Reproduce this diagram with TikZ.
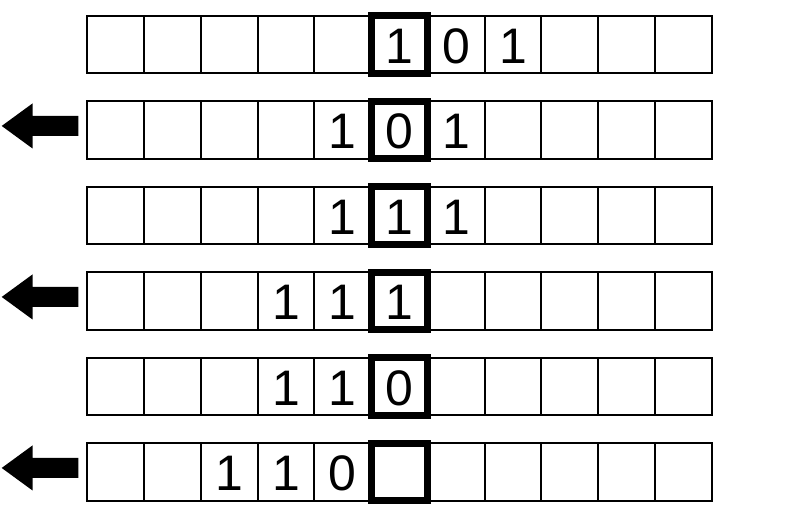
\documentclass[tikz,border=0pt]{standalone}
\usepackage{fontspec}
\setmainfont{Liberation Sans}
\usepackage{tikz}

\begin{document}
\begin{tikzpicture}[x=0.025cm, y=-0.025cm]

  \tikzstyle{cell}  = [rectangle, draw=black, line width=1.4pt, minimum width=1.419cm, minimum height=1.4375cm, inner sep=0pt, outer sep=0pt]
  \tikzstyle{head}  = [cell, line width=5pt]
  \tikzstyle{digit} = [inner sep=0pt, yshift=-0.045cm, font=\fontsize{35.5}{38}\selectfont]

  \useasboundingbox (0,0) rectangle (800,506);

  % tapes
  \foreach \row in {0,...,5} {
    \foreach \col in {0,...,10} {
      \node (c-\row-\col) [cell] at ({115.68+56.76*\col},{44.45+85.5*\row}) {};
    }
  }

  % symbols on the tapes
  \foreach \row/\s/\a/\b/\c in {0/5/1/0/1, 1/4/1/0/1, 2/4/1/1/1, 3/3/1/1/1, 4/3/1/1/0, 5/2/1/1/0} {
    \pgfmathtruncatemacro\t{\s+1}
    \pgfmathtruncatemacro\u{\s+2}
    \node (d-\row-1) [digit] at (c-\row-\s) {\a};
    \node (d-\row-2) [digit] at (c-\row-\t) {\b};
    \node (d-\row-3) [digit] at (c-\row-\u) {\c};
  }

  % read/write head
  \foreach \row in {0,...,5} {
    \node (h-\row) [head] at (c-\row-5) {};
  }

  % moves to the left
  \foreach \row in {1,3,5} {
    \pgfmathsetmacro\yc{40.45+85.5*\row}
    \fill[black] (1.7,\yc) -- (32.5,{\yc-22.5}) -- (32.5,{\yc-10}) -- (78.3,{\yc-10})
      -- (78.3,{\yc+10}) -- (32.5,{\yc+10}) -- (32.5,{\yc+22.5}) -- cycle;
  }

\end{tikzpicture}
\end{document}
